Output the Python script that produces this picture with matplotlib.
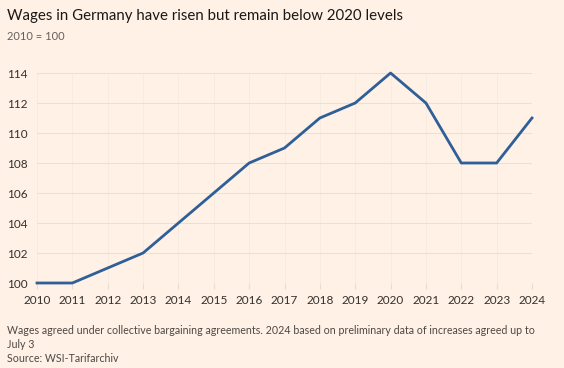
import matplotlib
matplotlib.use('Agg')
import matplotlib.pyplot as plt

plt.rcParams['font.family'] = ['Lato', 'DejaVu Sans']

years = [2010, 2011, 2012, 2013, 2014, 2015, 2016, 2017, 2018, 2019, 2020, 2021, 2022, 2023, 2024]
wages = [100, 100, 101, 102, 104, 106, 108, 109, 111, 112, 114, 112, 108, 108, 111]
yticks = [100, 102, 104, 106, 108, 110, 112, 114]

bg = '#FFF1E5'
fig = plt.figure(figsize=(5.64, 3.68), dpi=100, facecolor=bg)
ax = fig.add_axes([37 / 564, 85 / 368, (532 - 37) / 564, 210 / 368], facecolor=bg)

ax.plot(years, wages, color='#2F5F98', linewidth=2.0, clip_on=False, zorder=3)

ax.set_xlim(2010, 2024)
ax.set_ylim(100, 114)
ax.set_xticks(years)
ax.set_yticks(yticks)
ax.tick_params(axis='x', length=4, color='#E8DDD3', labelsize=8.5, labelcolor='#33302E', pad=5)
ax.tick_params(axis='y', length=0, labelsize=8.5, labelcolor='#33302E', pad=7)
ax.grid(axis='y', color='#EAE0D6', linewidth=0.8)
ax.grid(axis='x', color='#F5EBE1', linewidth=0.6)
for s in ax.spines.values():
    s.set_visible(False)

fig.text(7 / 564, 1 - 16 / 368, 'Wages in Germany have risen but remain below 2020 levels',
         fontsize=10.8, color='#1A1817', va='center')
fig.text(7 / 564, 1 - 37 / 368, '2010 = 100', fontsize=8, color='#66605C', va='center')
fig.text(7 / 564, 1 - 331 / 368,
         'Wages agreed under collective bargaining agreements. 2024 based on preliminary data of increases agreed up to',
         fontsize=7.7, color='#4D4845', va='center')
fig.text(7 / 564, 1 - 345 / 368, 'July 3', fontsize=7.7, color='#4D4845', va='center')
fig.text(7 / 564, 1 - 359 / 368, 'Source: WSI-Tarifarchiv', fontsize=7.7, color='#4D4845', va='center')

fig.savefig('out.png', dpi=100, facecolor=bg)
